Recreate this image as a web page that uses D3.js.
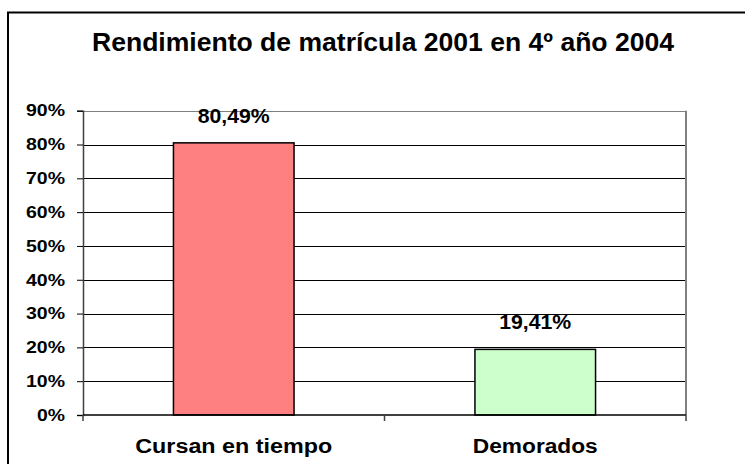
<!DOCTYPE html>
<html>
<head>
<meta charset="utf-8">
<script src="https://cdn.jsdelivr.net/npm/d3@7"></script>
<style>
  body { margin: 0; background: #fff; }
  text { font-family: "Liberation Sans", Arial, sans-serif; font-weight: bold; fill: #000; }
</style>
</head>
<body>
<div id="canvas"></div>
<script>
const categories = ['Cursan en tiempo', 'Demorados'];
const values = [80.49, 19.41];
const value_labels = ['80,49%', '19,41%'];
const y_ticks = [0, 10, 20, 30, 40, 50, 60, 70, 80, 90];
const title = 'Rendimiento de matrícula 2001 en 4º año 2004';

const width = 745, height = 464;
const plot = { left: 83, right: 686, top: 110.7, bottom: 415 };

let svg = d3.select('#canvas')
  .append('svg')
  .attr('width', width)
  .attr('height', height);

// chart frame (runs off the right and bottom edge)
svg.append('rect')
  .attr('x', 8).attr('y', 12.5)
  .attr('width', 760).attr('height', 480)
  .attr('fill', '#fff')
  .attr('stroke', '#000')
  .attr('stroke-width', 2);

const x = d3.scaleBand()
  .domain(categories)
  .range([plot.left, plot.right])
  .paddingInner(0.6)
  .paddingOuter(0.3);

const y = d3.scaleLinear()
  .domain([0, 90])
  .range([plot.bottom, plot.top]);

const colors = d3.scaleOrdinal()
  .domain(categories)
  .range(['#ff8080', '#ccffcc']);

// title
svg.append('text')
  .attr('x', 383).attr('y', 51)
  .attr('text-anchor', 'middle')
  .attr('font-size', '25.5px')
  .attr('textLength', 582)
  .attr('lengthAdjust', 'spacingAndGlyphs')
  .text(title);

// gridlines
svg.selectAll('.grid')
  .data(y_ticks.filter(d => d > 0))
  .join('line')
  .attr('class', 'grid')
  .attr('x1', plot.left).attr('x2', plot.right)
  .attr('y1', d => Math.round(y(d)) + 0.5)
  .attr('y2', d => Math.round(y(d)) + 0.5)
  .attr('stroke', d => d === 90 ? '#808080' : '#000')
  .attr('stroke-width', 1);

// right side of plot area
svg.append('line')
  .attr('x1', plot.right).attr('x2', plot.right)
  .attr('y1', y(90)).attr('y2', y(0))
  .attr('stroke', '#808080')
  .attr('stroke-width', 2);

// y axis
const yAxis = d3.axisLeft(y)
  .tickValues(y_ticks)
  .tickSize(6)
  .tickPadding(12)
  .tickFormat(d => d + '%');

const gy = svg.append('g')
  .attr('transform', `translate(${plot.left},0)`)
  .call(yAxis);
gy.select('.domain').attr('stroke', '#404040').attr('stroke-width', 1.5);
gy.selectAll('.tick line').attr('stroke', '#000');
gy.selectAll('.tick text')
  .attr('font-size', '16.5px')
  .attr('font-family', '"Liberation Sans", Arial, sans-serif')
  .attr('font-weight', 'bold')
  .attr('fill', '#000')
  .attr('textLength', d => d === 0 ? 28 : 39)
  .attr('lengthAdjust', 'spacingAndGlyphs');

// bars
svg.selectAll('.bar')
  .data(categories)
  .join('rect')
  .attr('class', 'bar')
  .attr('x', d => x(d))
  .attr('y', (d, i) => y(values[i]))
  .attr('width', x.bandwidth())
  .attr('height', (d, i) => y(0) - y(values[i]))
  .attr('fill', d => colors(d))
  .attr('stroke', '#000')
  .attr('stroke-width', 1.5);

// x axis line and category ticks
svg.append('line')
  .attr('x1', plot.left).attr('x2', plot.right)
  .attr('y1', y(0)).attr('y2', y(0))
  .attr('stroke', '#000')
  .attr('stroke-width', 1.5);

svg.selectAll('.xtick')
  .data(d3.range(categories.length + 1))
  .join('line')
  .attr('class', 'xtick')
  .attr('x1', i => plot.left + i * x.step())
  .attr('x2', i => plot.left + i * x.step())
  .attr('y1', y(0)).attr('y2', y(0) + 6)
  .attr('stroke', '#404040')
  .attr('stroke-width', 1.5);

// category labels
const cat_widths = [197, 125];
svg.selectAll('.cat')
  .data(categories)
  .join('text')
  .attr('class', 'cat')
  .attr('x', d => x(d) + x.bandwidth() / 2)
  .attr('y', 453)
  .attr('text-anchor', 'middle')
  .attr('font-size', '19.5px')
  .attr('textLength', (d, i) => cat_widths[i])
  .attr('lengthAdjust', 'spacingAndGlyphs')
  .text(d => d);

// value labels
svg.selectAll('.val')
  .data(categories)
  .join('text')
  .attr('class', 'val')
  .attr('x', d => x(d) + x.bandwidth() / 2)
  .attr('y', (d, i) => y(values[i]) - 20)
  .attr('text-anchor', 'middle')
  .attr('font-size', '19.5px')
  .attr('textLength', 72)
  .attr('lengthAdjust', 'spacingAndGlyphs')
  .text((d, i) => value_labels[i]);
</script>
</body>
</html>
